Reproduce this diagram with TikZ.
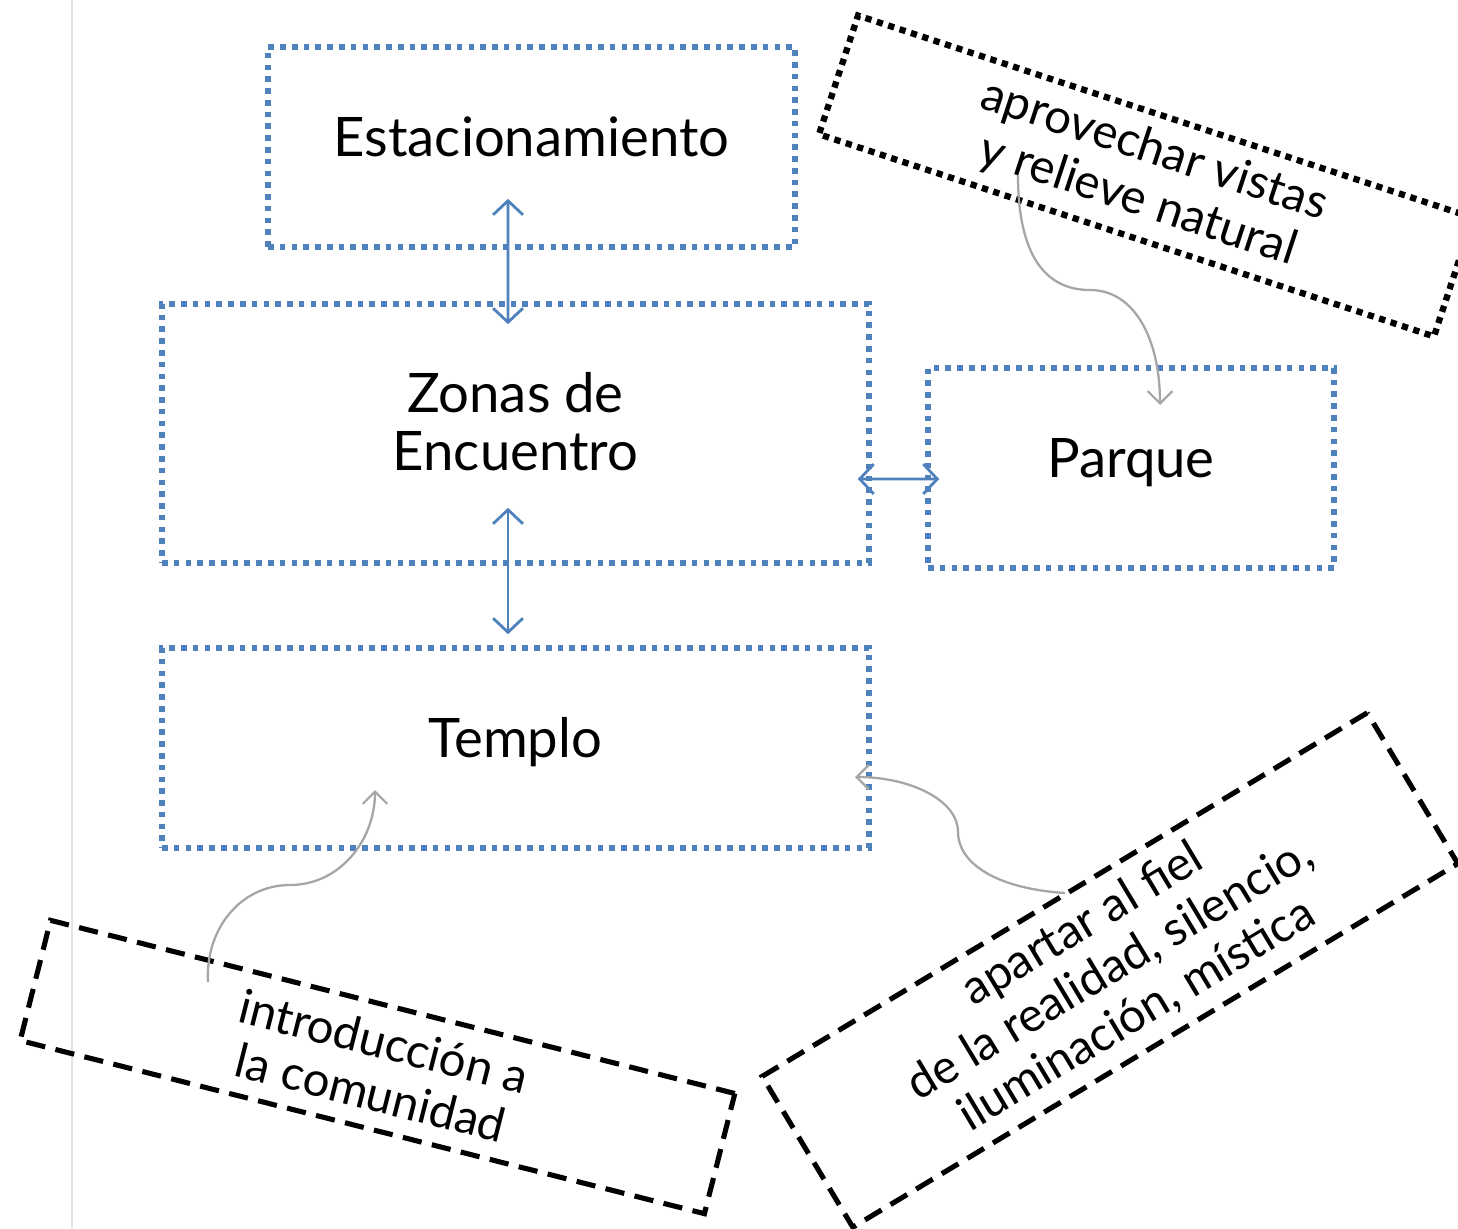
\documentclass[tikz,border=0pt]{standalone}
\usepackage{fontspec}
\setmainfont{Lato}
\usetikzlibrary{arrows.meta}
\definecolor{boxblue}{HTML}{4F81BD}
\definecolor{curvegray}{HTML}{A6A6A6}
\definecolor{railgray}{HTML}{E3E3E3}
\tikzset{
  bluebox/.style={draw=boxblue, line width=3.2pt, dash pattern=on 3.2pt off 3.5pt, inner sep=0pt},
  boxlabel/.style={font=\fontsize{31}{33}\selectfont, align=center, inner sep=0pt},
  blacknote/.style={draw=black, line width=2.9pt, inner sep=0pt, font=\fontsize{27}{30}\selectfont, align=center},
  dotnote/.style={blacknote, line width=3.6pt, dash pattern=on 3.6pt off 3.2pt},
  dashnote/.style={blacknote, dash pattern=on 11pt off 6pt},
  link/.style={draw=boxblue, line width=1.6pt, {Straight Barb[length=8pt,width=17pt]}-{Straight Barb[length=8pt,width=17pt]}},
  remark/.style={draw=curvegray, line width=1.3pt, -{Straight Barb[length=7pt,width=14pt]}}
}
\begin{document}
\begin{tikzpicture}[x=0.02cm,y=-0.02cm]
\useasboundingbox (0,0) rectangle (1458,1228);
\draw[railgray, line width=0.9pt] (72,0) -- (72,1228);

\node[bluebox, minimum width=10.54cm, minimum height=4cm] (est) at (531.5,147) {};
\node[bluebox, minimum width=14.14cm, minimum height=5.18cm] (zon) at (515.5,433.5) {};
\node[bluebox, minimum width=14.14cm, minimum height=4cm] (tem) at (515.5,748) {};
\node[bluebox, minimum width=8.12cm, minimum height=4cm] (par) at (1131,468) {};

\node[boxlabel] (estl) at ([yshift=0.2cm]est.center) {Estacionamiento};
\node[boxlabel] (zonl) at ([yshift=0.24cm]zon.center) {Zonas de\\Encuentro};
\node[boxlabel] (teml) at ([yshift=0.12cm]tem.center) {Templo};
\node[boxlabel] (parl) at ([yshift=0.1cm]par.center) {Parque};

\draw[link] ([xshift=-0.47cm,yshift=1.02cm]est.south) -- ([xshift=-0.15cm,yshift=-0.46cm]zon.north);
\draw[link] ([xshift=-0.15cm,yshift=1.16cm]zon.south) -- ([xshift=-0.15cm,yshift=0.22cm]tem.north);
\draw[link] ([xshift=-0.28cm,yshift=-0.91cm]zon.east) -- ([xshift=0.28cm,yshift=-0.22cm]par.west);

\node[dotnote, rotate=-18.2, minimum width=12.95cm, minimum height=2.5cm] (n1) at (1146,176) {aprovechar vistas\\y relieve natural};
\node[dashnote, rotate=-14.2, minimum width=14.12cm, minimum height=2.48cm] (n2) at (377.5,1067) {introducción a\\la comunidad};
\node[dashnote, rotate=31, minimum width=14.12cm, minimum height=3.52cm] (n3) at (1110,970) {apartar al fiel\\de la realidad, silencio,\\iluminación, mística};

\coordinate (c1s) at (1018,175);
\coordinate (c1e) at (1160,405);
\coordinate (c2s) at (208,982);
\coordinate (c2e) at (375,790);
\coordinate (c3s) at (1065,893);
\coordinate (c3e) at (855,777);

\draw[remark] (c1s) .. controls (1018,255) and (1045,290) .. (1090,290) .. controls (1135,290) and (1160,340) .. (c1e);
\draw[remark] (c2s) .. controls (205,930) and (240,885) .. (290,885) .. controls (340,885) and (375,840) .. (c2e);
\draw[remark] (c3s) .. controls (990,888) and (958,860) .. (958,832) .. controls (958,800) and (910,777) .. (c3e);
\end{tikzpicture}
\end{document}
